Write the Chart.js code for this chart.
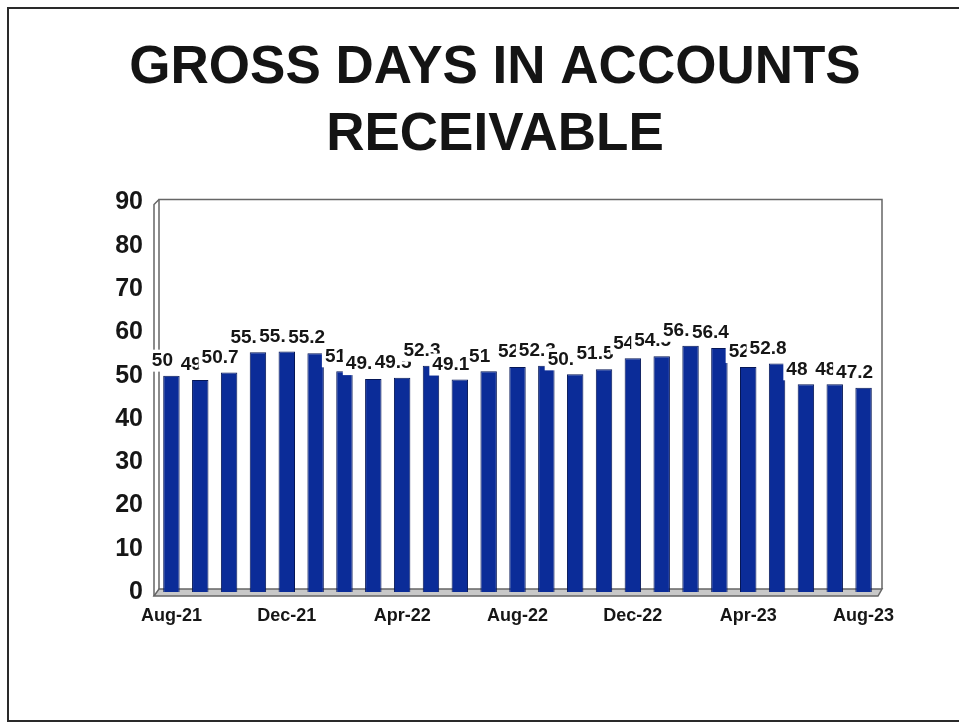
<!DOCTYPE html>
<html>
<head>
<meta charset="utf-8">
<title>Gross days in accounts receivable</title>
<script src="https://cdn.jsdelivr.net/npm/chart.js@4/dist/chart.umd.min.js"></script>
<style>
	html, body { margin: 0; padding: 0; background: #fff; overflow: hidden; }
	#wrap { position: relative; width: 959px; height: 725px; }
	#frame {
		position: absolute; left: 7px; top: 7px; width: 960px; height: 711px;
		border: 2px solid #2a2a2a; border-right: none; pointer-events: none;
	}
</style>
</head>
<body>
<div id="wrap">
	<canvas id="ar_days" width="959" height="725"></canvas>
	<div id="frame"></div>
</div>
<script>
//
// Données : un mois par barre, d'août 2021 à août 2023.
//
const months = [ "Aug-21", "Sep-21", "Oct-21", "Nov-21", "Dec-21", "Jan-22", "Feb-22", "Mar-22", "Apr-22",
	"May-22", "Jun-22", "Jul-22", "Aug-22", "Sep-22", "Oct-22", "Nov-22", "Dec-22", "Jan-23", "Feb-23",
	"Mar-23", "Apr-23", "May-23", "Jun-23", "Jul-23", "Aug-23" ];
const gross_days = [ 50, 49, 50.7, 55.4, 55.6, 55.2, 51, 49.2, 49.5, 52.3, 49.1, 51, 52, 52.3, 50.3,
	51.5, 54, 54.5, 56.9, 56.4, 52, 52.8, 48, 48, 47.2 ];
const title_lines = [ "GROSS DAYS IN ACCOUNTS", "RECEIVABLE" ];
const y_max = 90;
const y_step = 10;
const label_every = 4;

const font_family = "'Liberation Sans', Arial, Helvetica, sans-serif";

//
// Cadre du graphique (mur du fond et sol gris, façon 3D d'Excel).
//
const plot_frame = {
	id: "plot_frame",
	beforeDatasetsDraw( chart ) {
		const { ctx, chartArea: a } = chart;
		ctx.save();
		// sol
		ctx.fillStyle = "#c8c8c8";
		ctx.beginPath();
		ctx.moveTo( a.left - 3, a.bottom + 4 );
		ctx.lineTo( a.left + 2, a.bottom - 3 );
		ctx.lineTo( a.right + 4, a.bottom - 3 );
		ctx.lineTo( a.right, a.bottom + 4 );
		ctx.closePath();
		ctx.fill();
		ctx.strokeStyle = "#666";
		ctx.lineWidth = 1.5;
		ctx.stroke();
		// mur du fond
		ctx.beginPath();
		ctx.moveTo( a.left + 2, a.bottom - 3 );
		ctx.lineTo( a.left + 2, a.top - 3 );
		ctx.lineTo( a.right + 4, a.top - 3 );
		ctx.lineTo( a.right + 4, a.bottom - 3 );
		ctx.stroke();
		// côté gauche
		ctx.beginPath();
		ctx.moveTo( a.left - 3, a.bottom + 4 );
		ctx.lineTo( a.left - 3, a.top + 2 );
		ctx.lineTo( a.left + 2, a.top - 3 );
		ctx.stroke();
		ctx.restore();
	}
};

//
// Étiquettes de valeur sur fond blanc au-dessus de chaque barre.
//
const value_labels = {
	id: "value_labels",
	afterDatasetsDraw( chart ) {
		const { ctx } = chart;
		const meta = chart.getDatasetMeta( 0 );
		ctx.save();
		ctx.font = "bold 19px " + font_family;
		ctx.textAlign = "center";
		ctx.textBaseline = "middle";
		meta.data.forEach( ( bar, i ) => {
			const text = String( chart.data.datasets[ 0 ].data[ i ] );
			const w = ctx.measureText( text ).width;
			const x = bar.x - 9;
			const y = bar.y - 15;
			ctx.fillStyle = "#fff";
			ctx.fillRect( x - w / 2 - 3, y - 11, w + 6, 22 );
			ctx.fillStyle = "#161616";
			ctx.fillText( text, x, y );
		} );
		ctx.restore();
	}
};

const ar_chart = document.getElementById( "ar_days" );

new Chart( ar_chart,
	{
		type: "bar",
		data: {
			labels: months,
			datasets: [
				{
					data: gross_days,
					backgroundColor: "#0b2c98",
					borderColor: "#051656",
					borderWidth: 1,
					barPercentage: 0.57,
					categoryPercentage: 1
				}
			]
		},
		plugins: [ plot_frame, value_labels ],
		options: {
			responsive: false,
			animation: false,
			layout: {
				padding: { top: 0, left: 31, right: 0, bottom: 93 }
			},
			plugins: {
				legend: {
					display: false
				},
				tooltip: {
					enabled: false
				},
				title: {
					display: true,
					text: title_lines,
					color: "#141414",
					font: {
						size: 53,
						family: font_family,
						weight: "bold",
						lineHeight: 1.26
					},
					padding: { top: 35, bottom: 34 }
				}
			},
			scales: {
				x: {
					grid: {
						display: false,
						drawTicks: false
					},
					border: {
						display: false
					},
					ticks: {
						autoSkip: false,
						maxRotation: 0,
						padding: 13,
						color: "#161616",
						font: {
							size: 18,
							family: font_family,
							weight: "bold"
						},
						callback: function ( value, index ) {
							return index % label_every === 0 ? this.getLabelForValue( value ) : "";
						}
					},
					afterFit: ( scale ) => { scale.height = 40; }
				},
				y: {
					min: 0,
					max: y_max,
					grid: {
						display: false,
						drawTicks: false
					},
					border: {
						display: false
					},
					ticks: {
						stepSize: y_step,
						padding: 14,
						color: "#161616",
						font: {
							size: 25,
							family: font_family,
							weight: "bold"
						}
					},
					afterFit: ( scale ) => { scale.width = 126; }
				},
				// axe vide à droite, seulement pour garder la marge
				y_right: {
					position: "right",
					min: 0,
					max: y_max,
					grid: {
						display: false,
						drawTicks: false
					},
					border: {
						display: false
					},
					ticks: {
						display: false
					},
					afterFit: ( scale ) => { scale.width = 81; }
				}
			}
		}
	} );
</script>
</body>
</html>
